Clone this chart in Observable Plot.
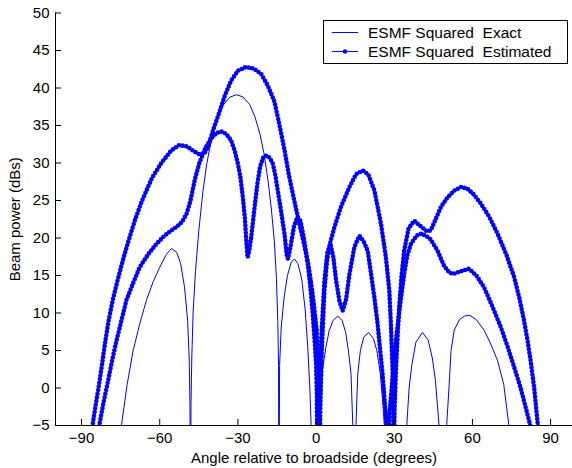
<!DOCTYPE html>
<html><head><meta charset="utf-8">
<script src="https://cdn.jsdelivr.net/npm/d3@7"></script>
<script src="https://cdn.jsdelivr.net/npm/@observablehq/plot@0.6"></script>
<style>
html,body{margin:0;padding:0;background:#fff;}
#wrap{position:relative;width:572px;height:468px;overflow:hidden;font-family:"Liberation Sans",Arial,sans-serif;}
#legend{position:absolute;left:0;top:0;pointer-events:none;}
</style></head><body><div id="wrap"></div>
<script>
// ---- data ----
const xDomain = [-100, 98.4];
const yDomain = [-5, 50];
const xTicks = [-90, -60, -30, 0, 30, 60, 90];
const yTicks = [-5, 0, 5, 10, 15, 20, 25, 30, 35, 40, 45, 50];
const xLabel = "Angle relative to broadside (degrees)";
const yLabel = "Beam power (dBs)";
const seriesNames = ["ESMF Squared  Exact", "ESMF Squared  Estimated"];

const exactAngle = [-78,-74.7,-72.5,-70.2,-67.5,-65.1,-62.5,-60,-57.5,-55.5,-53.5,-52,-50.5,-49.3,-48.7,-48.4,-48.2,-48.0,-47.7,-47.2,-46.3,-45,-43.5,-42,-40,-38,-35.5,-33,-30.5,-28,-25.5,-23.5,-21.5,-20,-18.5,-17.2,-16,-15.2,-14.7,-14.4,-14.25,-14.0,-13.4,-12.3,-11,-9.5,-8.3,-7,-5.5,-4.2,-3.2,-2.4,-1.9,-0.6,0.6,1.5,2.6,3.8,5,6.5,8.3,10,11.3,12.4,13.4,14.1,14.7,15.3,16,17,18.3,20.2,22,23.3,24.6,25.5,26.2,30,34.8,35.7,36.7,38.3,40.8,43,44.6,45.8,47.2,48.7,50.1,51.0,51.8,53,55,57,59,61.5,64.5,67,69.6,72,74,76];
const exactPower = [-14,-5,0.5,5,8.8,11.7,14.2,16.1,17.8,18.6,18.1,16.6,13.5,9,4,-2,-20,-2,4,10,15.5,21,26,29.8,33.5,35.9,37.8,38.8,39.1,38.8,37.8,36.2,33.8,31.3,27.8,24,19.5,14.5,9,3,-20,3,8,12,15,16.8,17.2,16.6,14.5,10.5,5.5,0,-5,-20,-5,-0.5,2.8,5.5,7.6,9,9.6,9,7.5,5,1.9,-5,-20,-5,1.9,5,6.8,7.4,6.6,5,2,-1.5,-5,-20,-5,0,3,6.1,7.4,6.4,4,1,-5,-20,-5,0,5,7.7,9.1,9.6,9.7,9.1,7.7,5.9,3.7,0.5,-5,-14];

const estAAngle = [-88,-85.8,-84.6,-83.5,-82.2,-80.9,-79.6,-78,-76,-74,-72,-69.5,-67,-63,-59.4,-55.5,-52.5,-49.5,-47,-44.5,-42.8,-41.3,-39.5,-37.6,-35,-32.6,-30,-27,-24,-21.1,-18.5,-16,-14,-12.1,-10.5,-8.5,-6.5,-4.5,-3,-1.9,-0.8,0.2,0.8,1.1,1.3,1.6,2.2,3.2,4.2,5.3,7,9.6,12.8,15.3,17.9,20,22.4,24.9,26.8,28.1,28.7,29.4,29.6,29.8,30.1,30.6,31.3,31.9,32.8,33.8,35.5,37.7,40,42.5,44,46,48,50.4,53,55.5,58,60.5,63.2,66.5,69.6,73,76,78,79.8,81.2,82.3,83.7,84.9,85.5,87];
const estAPower = [-14,-5,-2.3,0,3,6.2,9,11.8,14.6,17.2,19.6,22.4,24.8,28,30,31.7,32.4,32.2,31.6,31.1,31.3,32.3,34.4,36.3,39,41,42.3,42.8,42.6,41.9,40.3,38.2,35,31.7,28.5,25.2,22,19,16.5,14,11,7.8,3,-3,-15,-3,5,13,17,19.2,21.4,24.2,26.8,28.5,29,28.5,26.3,21.9,17.4,13,8.6,1.9,-3,-15,-3,1.9,7,10.8,15,18.3,21.3,22.3,21.6,20.9,21,22.6,24.2,25.4,26.3,26.8,26.6,25.8,24.6,22.8,20.6,17.8,14.8,12,9,6.2,3.7,0,-4.3,-6,-12];

const estBAngle = [-85,-83.2,-81.5,-79.8,-78.2,-76.6,-74.7,-72.8,-70.2,-67.7,-64.5,-61.3,-58.5,-56,-53.5,-51.3,-49.6,-48.2,-46.6,-44.8,-42.5,-40.2,-38.2,-36.4,-34.5,-32.6,-31.2,-30,-29,-28.1,-27.3,-26.8,-26.3,-25.7,-24.9,-23.6,-22.5,-21.5,-20.2,-19.1,-17.8,-16.6,-15.6,-14.7,-13.4,-12.1,-11.3,-10.8,-10,-8.5,-7.2,-6,-4.7,-3.2,-2.2,-1.3,-0.5,0,0.3,0.5,0.8,1.3,2.2,3.2,4.3,5.5,6.6,7.7,9,10.2,11.5,12.8,14.7,16.6,18.2,19.8,21.1,22.4,23.6,24.6,25.5,26.8,27.4,28,29,30.6,32.2,33.8,35,36.4,38.5,40.5,42.5,44,46.6,49.1,51.1,52.5,55,58.7,61.5,64.5,67.5,70.9,73.5,76,78.5,80,81.7,82.2,83.5];
const estBPower = [-12,-5,-1.8,1,3.8,6.3,9,11.7,14,16.1,17.8,19.2,20.2,20.9,21.5,22.2,23.3,25,27.7,30,32,33.3,34,34.2,33.9,33,31.6,29.9,28,25.4,22.5,19.7,17.4,18.2,20.1,24.1,27.3,29.5,30.8,31,30.7,29.9,28.3,26.3,23.5,20.5,17.8,17.2,18.5,21.5,22.8,22.3,20,16.6,13.5,9.9,6,3.2,-1,-15,-2,1,8,14.3,18,19.2,17.5,14.3,11.5,10.3,11.8,15.2,18.8,20.3,19.6,18.3,15.2,12,8.6,5,1.9,-3.9,-15,-4,0,6.3,11,15.2,17.7,19.2,20.3,20.6,20.2,19.8,18.3,16.3,15.4,15.2,15.5,15.9,15,13.4,11,8.1,5.5,2.8,0,-2,-4.3,-5,-10];

// ---- build ----
const toRows = (a, p) => a.map((x, i) => ({angle: x, power: p[i]}));
const exact = toRows(exactAngle, exactPower);
const estA = toRows(estAAngle, estAPower);
const estB = toRows(estBAngle, estBPower);

const W = 572, H = 468, mL = 55, mR = 0, mT = 12.5, mB = 43;
const frameW = W - mL - mR, frameH = H - mT - mB;
const blue = "#0000ff";
const dotted = (rows) => [
  Plot.line(rows, {x: "angle", y: "power", stroke: blue, strokeWidth: 1.2, clip: true}),
  Plot.line(rows, {x: "angle", y: "power", stroke: blue, strokeWidth: 4.6, strokeDasharray: "0 3.7", strokeLinecap: "round", strokeLinejoin: "round", clip: true})
];

const chart = Plot.plot({
  width: W, height: H,
  marginLeft: mL, marginRight: mR, marginTop: mT, marginBottom: mB,
  style: {fontFamily: '"Liberation Sans", Arial, sans-serif', fontSize: "15px", color: "#000", background: "#fff"},
  x: {domain: xDomain},
  y: {domain: yDomain},
  marks: [
    Plot.line(exact, {x: "angle", y: "power", stroke: blue, strokeWidth: 1, clip: true}),
    ...dotted(estA),
    ...dotted(estB),
    Plot.ruleX([xDomain[0]], {x: d => d, stroke: "#000"}),
    Plot.ruleY([yDomain[0]], {y: d => d, stroke: "#000"}),
    Plot.ruleX(xTicks, {x: d => d, insetTop: frameH - 6, stroke: "#000"}),
    Plot.ruleY(yTicks, {y: d => d, insetRight: frameW - 6, stroke: "#000"}),
    Plot.axisX(xTicks, {tickSize: 0, tickPadding: 7, label: null, fontSize: 15}),
    Plot.axisY(yTicks, {tickSize: 0, tickPadding: 6, label: null, fontSize: 15}),
    Plot.text([xLabel], {text: d => d, frameAnchor: "bottom", textAnchor: "middle", lineAnchor: "top", dy: 27, fontSize: 15, fill: "#000"}),
    Plot.text([yLabel], {text: d => d, frameAnchor: "left", textAnchor: "middle", lineAnchor: "middle", rotate: -90, dx: -40, fontSize: 15, fill: "#000"})
  ]
});
const wrap = document.getElementById("wrap");
wrap.appendChild(chart);

// ---- legend ----
const NS = "http://www.w3.org/2000/svg";
const lg = document.createElementNS(NS, "svg");
lg.setAttribute("id", "legend");
lg.setAttribute("width", W); lg.setAttribute("height", H);
lg.innerHTML = `
<rect x="323.5" y="20.5" width="244" height="43" fill="#fff" stroke="#000" stroke-width="1"/>
<line x1="332" x2="358" y1="32.5" y2="32.5" stroke="${blue}" stroke-width="1"/>
<line x1="332" x2="358" y1="51.5" y2="51.5" stroke="${blue}" stroke-width="1"/>
<circle cx="345" cy="51.5" r="2.3" fill="${blue}"/>
<text x="368" y="38" font-size="15.5" fill="#000" style="white-space:pre" font-family="Liberation Sans, Arial, sans-serif">${seriesNames[0]}</text>
<text x="368" y="57" font-size="15.5" fill="#000" style="white-space:pre" font-family="Liberation Sans, Arial, sans-serif">${seriesNames[1]}</text>`;
wrap.appendChild(lg);
</script></body></html>
